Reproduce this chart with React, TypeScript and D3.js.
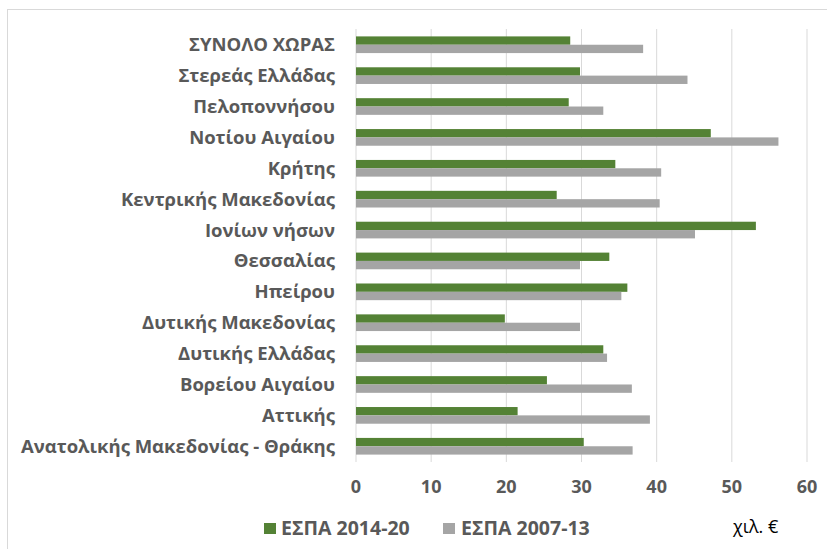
import React from "react";
import * as d3 from "d3";

const categories = [
  "ΣΥΝΟΛΟ ΧΩΡΑΣ",
  "Στερεάς Ελλάδας",
  "Πελοποννήσου",
  "Νοτίου Αιγαίου",
  "Κρήτης",
  "Κεντρικής Μακεδονίας",
  "Ιονίων νήσων",
  "Θεσσαλίας",
  "Ηπείρου",
  "Δυτικής Μακεδονίας",
  "Δυτικής Ελλάδας",
  "Βορείου Αιγαίου",
  "Αττικής",
  "Ανατολικής Μακεδονίας - Θράκης",
];
const espa2014 = [28.5, 29.8, 28.3, 47.2, 34.5, 26.7, 53.2, 33.7, 36.1, 19.8, 32.9, 25.4, 21.5, 30.3];
const espa2007 = [38.2, 44.1, 32.9, 56.2, 40.6, 40.4, 45.1, 29.8, 35.3, 29.8, 33.4, 36.7, 39.1, 36.8];
const xTicks = [0, 10, 20, 30, 40, 50, 60];
const seriesNames = ["ΕΣΠΑ 2014-20", "ΕΣΠΑ 2007-13"];
const unitLabel = "χιλ. €";

const W = 827;
const H = 549;
const GREEN = "#548235";
const GRAY = "#a5a5a5";
const FONT = "'Open Sans', 'Noto Sans', sans-serif";

export default function App() {
  const x = d3.scaleLinear().domain([0, 60]).range([356, 807]);
  const y = d3.scaleBand<string>().domain(categories).range([29.3, 461.7]).padding(0);
  const barH = y.bandwidth() * 0.27;

  return (
    <svg width={W} height={H} style={{ position: "absolute", left: 0, top: 0, background: "#fff" }}>
      <rect x={7.5} y={9.5} width={W + 10} height={H + 10} fill="#fff" stroke="#d9d9d9" strokeWidth={1} />
      {xTicks.map((t) => (
        <line key={t} x1={x(t)} x2={x(t)} y1={29} y2={462} stroke="#d9d9d9" strokeWidth={1} />
      ))}
      {categories.map((c, i) => {
        const cy = (y(c) as number) + y.bandwidth() / 2;
        return (
          <g key={c}>
            <rect x={x(0)} y={cy - barH} width={x(espa2014[i]) - x(0)} height={barH} fill={GREEN} />
            <rect x={x(0)} y={cy} width={x(espa2007[i]) - x(0)} height={barH} fill={GRAY} />
            <text
              x={335}
              y={cy}
              dy="0.35em"
              textAnchor="end"
              fontFamily={FONT}
              fontWeight={700}
              fontSize={18.5}
              fill="#595959"
            >
              {c}
            </text>
          </g>
        );
      })}
      {xTicks.map((t) => (
        <text
          key={"t" + t}
          x={x(t)}
          y={487}
          dy="0.35em"
          textAnchor="middle"
          fontFamily={FONT}
          fontWeight={700}
          fontSize={18}
          fill="#595959"
        >
          {t}
        </text>
      ))}
      <rect x={264} y={523} width={12} height={11} fill={GREEN} />
      <text x={281} y={528} dy="0.35em" fontFamily={FONT} fontWeight={700} fontSize={19.5} fill="#595959">
        {seriesNames[0]}
      </text>
      <rect x={443} y={523} width={12} height={11} fill={GRAY} />
      <text x={461} y={528} dy="0.35em" fontFamily={FONT} fontWeight={700} fontSize={19.5} fill="#595959">
        {seriesNames[1]}
      </text>
      <text x={733} y={527} dy="0.35em" fontFamily={FONT} fontSize={18} fill="#000">
        {unitLabel}
      </text>
    </svg>
  );
}
